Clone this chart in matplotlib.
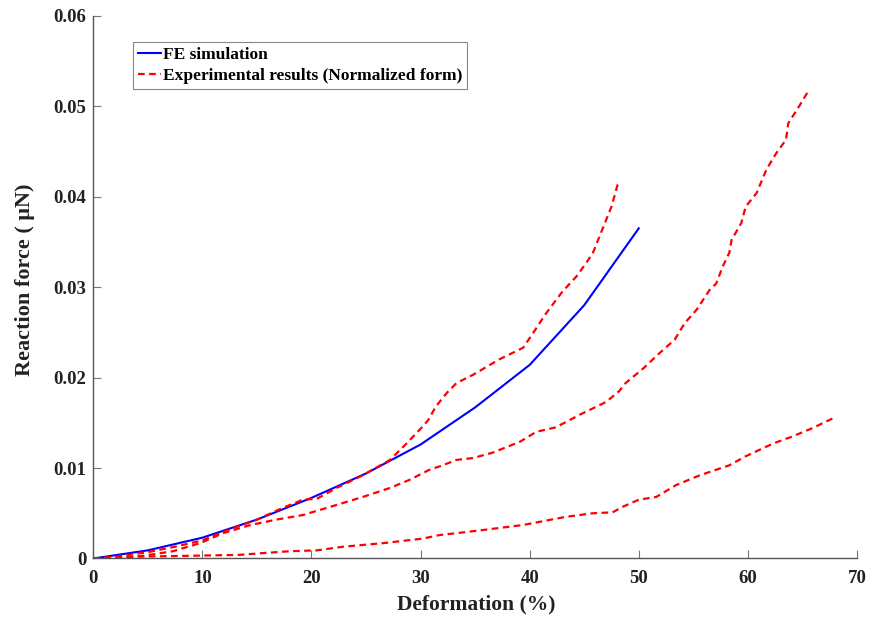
import matplotlib
matplotlib.use("Agg")
import matplotlib.pyplot as plt

# FE simulation
fe_x = [0, 5, 10, 15, 20, 25, 30, 35, 40, 45, 50]
fe_y = [0, 0.0009, 0.0023, 0.0043, 0.0067, 0.0094, 0.0126, 0.0167, 0.0214, 0.0280, 0.0365]

# Experimental curve 1
e1_x = [0, 2, 5, 7.5, 10, 12.5, 15, 17, 19.2, 20.5, 22.3, 24.7, 27.2, 28.7, 30.2, 30.7,
        31.4, 32.4, 33.3, 34.8, 37.2, 39.4, 40.3, 41.5, 43.0, 44.3, 45.2, 45.8, 46.6, 47.5, 48.1]
e1_y = [0, 0.0002, 0.0007, 0.0013, 0.0020, 0.0032, 0.0043, 0.0054, 0.0065, 0.0066, 0.0078,
        0.0092, 0.0109, 0.0127, 0.0146, 0.0153, 0.0168, 0.0183, 0.0194, 0.0203, 0.0220, 0.0233,
        0.0249, 0.0271, 0.0295, 0.0312, 0.0327, 0.0338, 0.0362, 0.0389, 0.0415]

# Experimental curve 2
e2_x = [0, 2.5, 4.6, 7.3, 9.8, 11.9, 14.4, 16.8, 19.2, 21.7, 24.7, 27.2, 29, 30.8, 31.8, 33.3,
        34.8, 36.6, 39.1, 40.6, 42.4, 44.6, 47.0, 48.2, 48.8, 50.4, 51.9, 53.3, 54.2, 55.3, 56.5,
        57.1, 57.7, 58.3, 58.5, 59.4, 59.8, 60.8, 61.7, 62.6, 63.5, 63.7, 64.7, 65.6]
e2_y = [0, 0.0001, 0.0003, 0.0008, 0.0017, 0.0028, 0.0037, 0.0043, 0.0048, 0.0057, 0.0068,
        0.0078, 0.0087, 0.0098, 0.0102, 0.0109, 0.0111, 0.0117, 0.0129, 0.0140, 0.0145, 0.0159,
        0.0173, 0.0185, 0.0194, 0.0210, 0.0227, 0.0242, 0.0260, 0.0275, 0.0297, 0.0304, 0.0323,
        0.0338, 0.0352, 0.0371, 0.0389, 0.0404, 0.0430, 0.0448, 0.0463, 0.0481, 0.0500, 0.0518]

# Experimental curve 3
e3_x = [0, 4, 8.9, 13.4, 15.6, 18, 20.5, 22.9, 26.6, 30.2, 31.8, 33.3, 35.4, 39.4, 43.3, 45.8,
        47.6, 48.5, 50, 51.6, 53.4, 55.6, 58.3, 59.8, 62.3, 64.1, 65.9, 67.8]
e3_y = [0, 0.0002, 0.0003, 0.0004, 0.0006, 0.0008, 0.0009, 0.0013, 0.0017, 0.0022, 0.0026,
        0.0028, 0.0031, 0.0037, 0.0046, 0.0050, 0.0051, 0.0057, 0.0065, 0.0068, 0.0081, 0.0092,
        0.0103, 0.0113, 0.0127, 0.0135, 0.0144, 0.0155]

x_ticks = [0, 10, 20, 30, 40, 50, 60, 70]
y_ticks = [0, 0.01, 0.02, 0.03, 0.04, 0.05, 0.06]
y_tick_labels = ["0", "0.01", "0.02", "0.03", "0.04", "0.05", "0.06"]

plt.rcParams['font.family'] = ['Liberation Serif', 'DejaVu Serif']
plt.rcParams['font.weight'] = 'bold'

fig = plt.figure(figsize=(8.71, 6.24), dpi=100)
ax = fig.add_axes([0.1071, 0.105, 0.8768, 0.8698])

ax.plot(fe_x, fe_y, color='blue', lw=1.5, label='FE simulation')
ax.plot(e1_x, e1_y, color='red', lw=1.6, dashes=(3, 2), label='Experimental results (Normalized form)')
ax.plot(e2_x, e2_y, color='red', lw=1.6, dashes=(3, 2))
ax.plot(e3_x, e3_y, color='red', lw=1.6, dashes=(3, 2))

ax.set_xlim(0, 70)
ax.set_ylim(0, 0.06)
ax.set_xticks(x_ticks)
ax.set_xticklabels([str(v) for v in x_ticks])
ax.set_yticks(y_ticks)
ax.set_yticklabels(y_tick_labels)

for s in ['top', 'right']:
    ax.spines[s].set_visible(False)
for s in ['left', 'bottom']:
    ax.spines[s].set_color('#555555')
    ax.spines[s].set_linewidth(1.0)
ax.tick_params(direction='in', length=6, width=0.8, color='#777777', labelsize=13.5,
               labelcolor='#222222', pad=5)
ax.tick_params(axis='x', pad=8)
for lab in ax.get_xticklabels() + ax.get_yticklabels():
    lab.set_fontweight('bold')

ax.set_xlabel('Deformation (%)', fontsize=15.5, fontweight='bold', color='#222222')
ax.set_ylabel('Reaction force ( μN)', fontsize=16, fontweight='bold', color='#222222')
ax.xaxis.set_label_coords(0.501, -0.066)
ax.yaxis.set_label_coords(-0.076, 0.513)

leg = ax.legend(loc='upper left', bbox_to_anchor=(0.052, 0.952), fontsize=12.5,
                handlelength=1.35, handletextpad=0.1, borderpad=0.28, labelspacing=0.32,
                borderaxespad=0, fancybox=False, framealpha=1)
leg.get_frame().set_edgecolor('#888888')
leg.get_frame().set_linewidth(0.8)
for t in leg.get_texts():
    t.set_fontweight('bold')

fig.savefig('out.png', dpi=100)
